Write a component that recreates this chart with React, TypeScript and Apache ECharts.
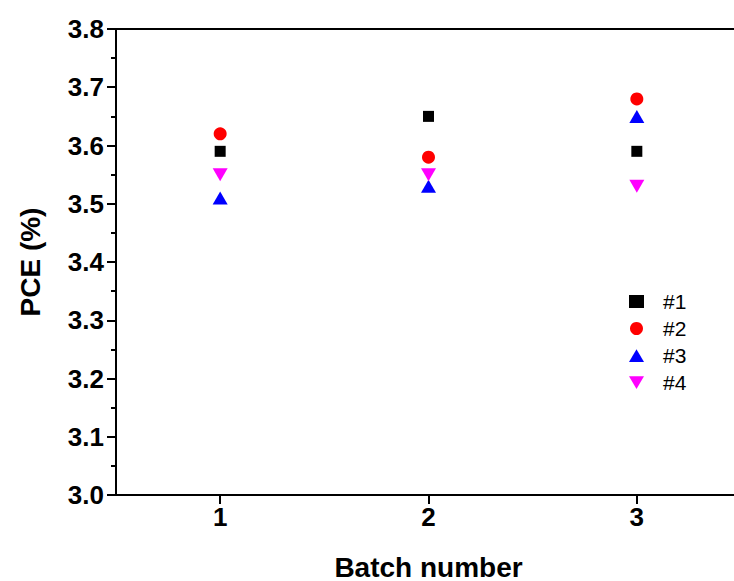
import React, { useEffect, useRef } from "react";
import * as echarts from "echarts";

const batches = [1, 2, 3];
const sample1 = [3.59, 3.65, 3.59];
const sample2 = [3.62, 3.58, 3.68];
const sample3 = [3.51, 3.53, 3.65];
const sample4 = [3.55, 3.55, 3.53];
const seriesNames = ["#1", "#2", "#3", "#4"];
const yTicks = [3.0, 3.1, 3.2, 3.3, 3.4, 3.5, 3.6, 3.7, 3.8];

const FONT = "'Liberation Sans', Arial, sans-serif";
const DOWN_TRI = "path://M0,0L20,0L10,17Z";
const UP_TRI = "path://M10,0L20,17L0,17Z";

export default function App() {
  const ref = useRef<HTMLDivElement>(null);
  useEffect(() => {
    document.body.style.margin = "0";
    const chart = echarts.init(ref.current!, null, { renderer: "svg" });
    const mk = (vals: number[]) => batches.map((b, i) => [b, vals[i]]);
    const defs = [
      { name: seriesNames[0], vals: sample1, symbol: "rect", size: [11, 11], color: "#000000" },
      { name: seriesNames[1], vals: sample2, symbol: "circle", size: [13, 13], color: "#ff0000" },
      { name: seriesNames[2], vals: sample3, symbol: UP_TRI, size: [15, 13], color: "#0000ff" },
      { name: seriesNames[3], vals: sample4, symbol: DOWN_TRI, size: [15, 13], color: "#ff00ff" },
    ];
    const series = defs.map((s) => ({
      type: "scatter",
      name: s.name,
      data: mk(s.vals),
      symbol: s.symbol,
      symbolSize: s.size,
      itemStyle: { color: s.color, opacity: 1 },
      emphasis: { disabled: true },
    }));
    chart.setOption({
      animation: false,
      backgroundColor: "#ffffff",
      grid: { left: 116, top: 29, width: 625, height: 466, outerBoundsMode: "none", containLabel: false },
      legend: {
        orient: "vertical",
        left: 624,
        top: 286,
        itemGap: 6,
        itemWidth: 15,
        itemHeight: 13,
        textStyle: { fontSize: 21, fontFamily: FONT, color: "#000", padding: [0, 0, 0, 14] },
        data: defs.map((d) => ({ name: d.name, itemStyle: { color: d.color, opacity: 1 } })),
      },
      xAxis: [
        {
          type: "value",
          min: 0.5,
          max: 3.5,
          interval: 0.5,
          name: "Batch number",
          nameLocation: "middle",
          nameGap: 58,
          nameTextStyle: { fontSize: 28, fontWeight: "bold", fontFamily: FONT, color: "#000" },
          axisLine: { show: true, lineStyle: { color: "#000", width: 2 } },
          axisTick: { show: true, inside: false, length: 9, customValues: batches, lineStyle: { color: "#000", width: 2 } },
          axisLabel: { customValues: batches, fontSize: 26, fontWeight: "bold", fontFamily: FONT, color: "#000", margin: 9 },
          splitLine: { show: false },
        },
        {
          type: "value",
          position: "top",
          min: 0.5,
          max: 3.5,
          axisLine: { show: true, onZero: false, lineStyle: { color: "#000", width: 2 } },
          axisTick: { show: false },
          axisLabel: { show: false },
          splitLine: { show: false },
        },
      ],
      yAxis: {
        type: "value",
        min: 3.0,
        max: 3.8,
        interval: 0.1,
        name: "PCE (%)",
        nameLocation: "middle",
        nameGap: 72,
        nameRotate: 90,
        nameTextStyle: { fontSize: 28, fontWeight: "bold", fontFamily: FONT, color: "#000" },
        axisLine: { show: true, lineStyle: { color: "#000", width: 2 } },
        axisTick: { show: true, inside: false, length: 9, lineStyle: { color: "#000", width: 2 } },
        minorTick: { show: true, splitNumber: 2, length: 5, lineStyle: { color: "#000", width: 2 } },
        axisLabel: {
          fontSize: 26,
          fontWeight: "bold",
          fontFamily: FONT,
          color: "#000",
          margin: 12,
          formatter: (v: number) => {
            const t = yTicks.find((x) => Math.abs(x - v) < 1e-6);
            return t !== undefined ? t.toFixed(1) : "";
          },
        },
        splitLine: { show: false },
      },
      series,
    });
    return () => chart.dispose();
  }, []);
  return <div ref={ref} style={{ width: 734, height: 581 }} />;
}
